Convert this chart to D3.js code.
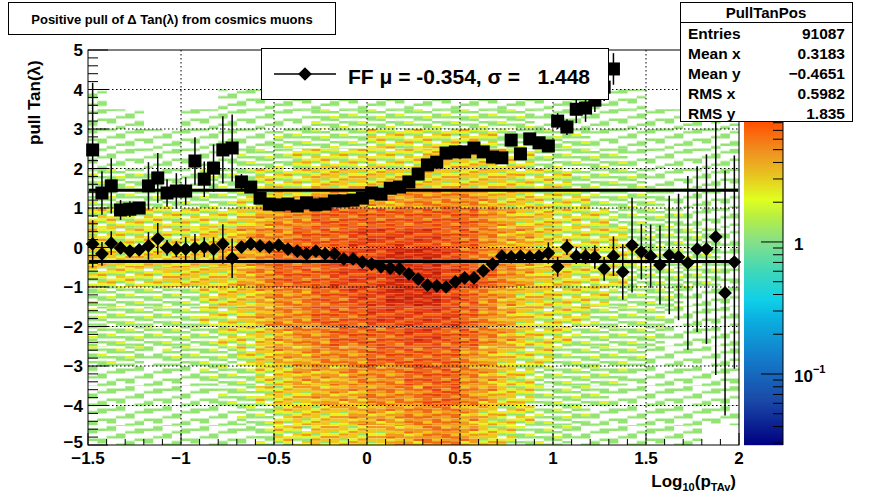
<!DOCTYPE html>
<html><head><meta charset="utf-8">
<script src="https://cdn.jsdelivr.net/npm/d3@7/dist/d3.min.js"></script>
<style>body{margin:0;background:#fff}text{font-family:"Liberation Sans",Arial,sans-serif;font-weight:bold}</style>
</head><body><svg id="c" width="871" height="495"></svg>
<script>
// ---- data ----
const binWidth = 0.05;
const binStart = -1.475;
const squareVals = [2.47,1.38,1.56,0.95,0.97,1.0,1.56,1.76,1.38,1.43,1.43,2.19,1.73,2.01,2.47,2.52,1.66,1.53,1.25,1.1,1.08,1.10,1.05,1.13,1.08,1.10,1.18,1.18,1.2,1.25,1.38,1.35,1.5,1.53,1.66,1.86,2.09,2.16,2.39,2.42,2.42,2.52,2.42,2.29,2.27,2.72,2.37,2.75,2.65,2.57,3.2,3.05,3.5,3.53,3.73,4.06,4.52];
const squareErr = [1.7,0.55,0.7,0.25,0.2,0.15,0.6,0.63,0.35,0.45,0.35,0.6,0.45,0.6,0.85,0.85,0.2,0.1,0.08,0.07,0.06,0.06,0.06,0.06,0.06,0.06,0.06,0.06,0.06,0.06,0.06,0.06,0.07,0.07,0.07,0.07,0.08,0.08,0.08,0.08,0.09,0.09,0.1,0.1,0.12,0.12,0.14,0.14,0.15,0.15,0.2,0.2,0.35,0.35,0.3,0.35,0.4];
const diamondVals = [0.09,-0.16,0.11,-0.01,-0.09,-0.06,0.04,0.22,-0.01,-0.04,-0.04,-0.01,0.01,-0.04,0.09,-0.27,0.01,0.09,0.04,0.01,0.06,-0.04,-0.09,-0.16,-0.09,-0.16,-0.16,-0.29,-0.29,-0.37,-0.42,-0.49,-0.52,-0.54,-0.67,-0.8,-0.95,-0.97,-1.0,-0.87,-0.77,-0.77,-0.59,-0.42,-0.22,-0.24,-0.22,-0.24,-0.22,-0.14,-0.49,0.01,-0.22,-0.22,-0.24,-0.54,-0.22,-0.62,0.06,-0.11,-0.22,-0.44,-0.19,-0.24,-0.39,-0.04,-0.04,0.27,-1.15,-0.37];
const diamondErr = [0.6,0.3,0.3,0.15,0.15,0.1,0.35,0.4,0.2,0.2,0.3,0.35,0.25,0.3,0.5,0.5,0.15,0.1,0.08,0.08,0.07,0.07,0.06,0.06,0.06,0.06,0.06,0.06,0.06,0.06,0.06,0.06,0.06,0.06,0.06,0.06,0.06,0.07,0.07,0.07,0.07,0.08,0.08,0.09,0.1,0.1,0.1,0.12,0.15,0.27,0.25,0.2,0.2,0.2,0.3,0.3,0.5,0.7,1.2,0.7,0.8,1.0,1.5,1.6,2.2,2.1,2.4,3.5,3.1,2.7];
const fitMu = -0.354, fitSigma = 1.448;
// density levels per column (x from -1.5 step 0.1), rows y top(5) -> bottom(-5), step 0.5
const heatX0 = -1.5, heatDX = 0.1, heatDY = 0.5;
const heatCols = [
"00111122334322221111","00011122334322221111","00011122334322221111","00001112334322211111",
"00001112334422221111","00011112334422221111","00011122344433222111","00111122345443322211",
"00111223455544332221","00111233566655443322","00112234667766554433","00112334677766655443",
"00122345777777665544","00122345778877765544","00122345788887766554","00123345788888776654",
"00123345789998776655","00123346789998877665","00123446789998877766","00123446778888777766",
"00123446777877766655","00123445666766655544","00122344556655544433","00122334455544433332",
"00112233444443332222","00112233334433322222","00112223333333222221","00111222333332222211",
"00111222233322222111","00111122223222221111","00011112222222211111","00011111222221111111",
"00011111122211111111","00011111122211111110","00011111111111111110"];
const xTicks = [-1.5,-1,-0.5,0,0.5,1,1.5,2];
const yTicks = [-5,-4,-3,-2,-1,0,1,2,3,4,5];
const zRange = [0.029, 8.1];
const statsRows = [["Entries","91087"],["Mean x","0.3183"],["Mean y","\u22120.4651"],["RMS x","0.5982"],["RMS y","1.835"]];

// ---- drawing ----
const svg = d3.select("#c");
const x = d3.scaleLinear().domain([-1.5,2]).range([88,739]);
const y = d3.scaleLinear().domain([-5,5]).range([445,50]);
const stops = [[0,"#000080"],[0.14,"#1a4aa8"],[0.26,"#1478c8"],[0.39,"#0ab0e0"],[0.45,"#10d0e8"],[0.54,"#40d8b8"],[0.63,"#86e088"],[0.71,"#b8f040"],[0.76,"#e0ff20"],[0.84,"#e8c020"],[0.91,"#f09020"],[1,"#ff5000"]];
const pal = d3.scaleLinear().domain(stops.map(s=>s[0])).range(stops.map(s=>s[1])).clamp(true);

// stripe textures per density level (style, not data)
const C = {W:null,G:"#94e474",Y:"#e4f420",A:"#f0c818",O:"#f09a1c",Q:"#f06a10",R:"#e84010",D:"#d02808",K:"#c01c04"};
const levelStripes = ["","GWWGWWWG","GWYGWGGW","YGAYGWYO","AYOAGYOA","OAOQYOAO","QOQOAQOQ","QRQORQQR","RQRDRQRR","DRDKDDRD"];
const stripeH = 2.5, nVar = 5;
const defs = svg.append("defs");
for(let l=1;l<levelStripes.length;l++){
  for(let v=0;v<nVar;v++){
    const p = defs.append("pattern").attr("id",`p${l}_${v}`).attr("patternUnits","userSpaceOnUse")
      .attr("width",20).attr("height",stripeH*8).attr("patternTransform",`translate(0,${v*stripeH*3+1})`);
    levelStripes[l].split("").forEach((c,k)=>{ if(C[c]) p.append("rect").attr("x",0).attr("y",k*stripeH).attr("width",20).attr("height",stripeH).attr("fill",C[c]); });
  }
}
const heat = [];
heatCols.forEach((s,i)=>{ for(let r=0;r<s.length;r++){ const d=+s[r]; if(d>0) for(let h=0;h<2;h++) heat.push({x0:heatX0+i*heatDX+h*heatDX/2, y1:5-r*heatDY, d, v:(2*i+h+r)%nVar}); }});
svg.append("g").selectAll("rect").data(heat).join("rect")
  .attr("x",d=>x(d.x0)).attr("y",d=>y(d.y1))
  .attr("width",d=>x(d.x0+heatDX/2)-x(d.x0)+0.2).attr("height",d=>y(d.y1-heatDY)-y(d.y1))
  .attr("fill",d=>`url(#p${d.d}_${d.v})`);

// grid
const grid = svg.append("g").attr("stroke","#000").attr("stroke-dasharray","1.5,2.5").attr("stroke-width",1);
xTicks.slice(1,-1).forEach(t=>grid.append("line").attr("x1",x(t)).attr("x2",x(t)).attr("y1",50).attr("y2",445));
yTicks.slice(1,-1).forEach(t=>grid.append("line").attr("y1",y(t)).attr("y2",y(t)).attr("x1",88).attr("x2",739));

// frame & ticks
svg.append("rect").attr("x",88).attr("y",50).attr("width",651).attr("height",395).attr("fill","none").attr("stroke","#000");
const tk = svg.append("g").attr("stroke","#000");
d3.range(-1.5,2.0001,0.1).forEach(t=>{const maj=Math.abs(t*2-Math.round(t*2))<1e-6; tk.append("line").attr("x1",x(t)).attr("x2",x(t)).attr("y1",445).attr("y2",445-(maj?12:6));});
d3.range(-5,5.0001,0.2).forEach(t=>{const maj=Math.abs(t-Math.round(t))<1e-6; tk.append("line").attr("y1",y(t)).attr("y2",y(t)).attr("x1",88).attr("x2",88+(maj?20:10));});
const fmt = t => (t<0?"\u2212":"")+Math.abs(t);
svg.append("g").selectAll("text").data(xTicks).join("text").attr("x",d=>x(d)).attr("y",464).attr("text-anchor","middle").attr("font-size",17).text(fmt);
svg.append("g").selectAll("text").data(yTicks).join("text").attr("x",83).attr("y",d=>y(d)+(d===-5?3:6)).attr("text-anchor","end").attr("font-size",17).text(fmt);
svg.append("text").attr("transform","translate(40,145) rotate(-90)").attr("font-size",17).text("pull Tan(\u03bb)");
const xt = svg.append("text").attr("x",736).attr("y",487).attr("text-anchor","end").attr("font-size",17);
xt.append("tspan").text("Log");
xt.append("tspan").attr("font-size",11).attr("dy",4).text("10");
xt.append("tspan").attr("dy",-4).text("(p");
xt.append("tspan").attr("font-size",11).attr("dy",4).text("TAv");
xt.append("tspan").attr("dy",-4).text(")");

// fit lines
[fitMu,fitSigma].forEach(v=>svg.append("line").attr("x1",89).attr("x2",738).attr("y1",y(v)).attr("y2",y(v)).attr("stroke","#000").attr("stroke-width",3));

// points
const cx = i => x(binStart+i*binWidth);
const eb = svg.append("g").attr("stroke","#000").attr("stroke-width",1.5);
squareVals.forEach((v,i)=>eb.append("line").attr("x1",cx(i)).attr("x2",cx(i)).attr("y1",y(Math.min(5,v+squareErr[i]))).attr("y2",y(v-squareErr[i])));
diamondVals.forEach((v,i)=>eb.append("line").attr("x1",cx(i)).attr("x2",cx(i)).attr("y1",y(Math.min(5,v+diamondErr[i]))).attr("y2",y(Math.max(-5,v-diamondErr[i]))));
svg.append("g").selectAll("rect").data(squareVals).join("rect").attr("x",(d,i)=>cx(i)-6.5).attr("y",d=>y(d)-6.5).attr("width",13).attr("height",13).attr("fill","#000");
const dia = d3.symbol().type(d3.symbolDiamond2).size(120);
svg.append("g").selectAll("path").data(diamondVals).join("path").attr("transform",(d,i)=>`translate(${cx(i)},${y(d)})`).attr("d",dia).attr("fill","#000");

// colorbar
const cb = svg.append("g");
const cbx=744, cbw=39, cbTop=122, cbBot=445;
for(let py=cbTop; py<cbBot; py++){ cb.append("rect").attr("x",cbx).attr("y",py).attr("width",cbw).attr("height",1.2).attr("fill",pal((cbBot-py-0.5)/(cbBot-cbTop))); }
const zy = d3.scaleLog().domain(zRange).range([cbBot,cbTop]);
const cbt = svg.append("g").attr("stroke","#000");
cbt.append("line").attr("x1",cbx+cbw).attr("x2",cbx+cbw).attr("y1",cbTop).attr("y2",cbBot);
[0.03,0.04,0.05,0.06,0.07,0.08,0.09,0.1,0.2,0.3,0.4,0.5,0.6,0.7,0.8,0.9,1,2,3,4,5,6,7,8].forEach(v=>{const maj=(v===0.1||v===1); cbt.append("line").attr("x1",cbx+cbw).attr("x2",cbx+cbw-(maj?22:10)).attr("y1",zy(v)).attr("y2",zy(v));});
svg.append("text").attr("x",794).attr("y",zy(1)+8).attr("font-size",17).text("1");
const t10 = svg.append("text").attr("x",794).attr("y",zy(0.1)+8).attr("font-size",17);
t10.append("tspan").text("10"); t10.append("tspan").attr("font-size",11).attr("dy",-9).text("\u22121");

// title box
svg.append("rect").attr("x",8.5).attr("y",2.5).attr("width",327).attr("height",32).attr("fill","#fff").attr("stroke","#000");
svg.append("text").attr("x",172).attr("y",24).attr("text-anchor","middle").attr("font-size",13).text("Positive pull of \u0394 Tan(\u03bb) from cosmics muons");

// legend
svg.append("rect").attr("x",261.5).attr("y",48.5).attr("width",347).attr("height",51).attr("fill","#fff").attr("stroke","#000");
svg.append("line").attr("x1",274).attr("x2",336).attr("y1",74).attr("y2",74).attr("stroke","#000").attr("stroke-width",1.5);
svg.append("path").attr("transform","translate(305,74)").attr("d",dia).attr("fill","#000");
svg.append("text").attr("x",348).attr("y",84).attr("font-size",21).attr("xml:space","preserve").text(`FF \u03bc = ${fitMu}, \u03c3 =   ${fitSigma}`);

// stats box
svg.append("rect").attr("x",680.5).attr("y",2.5).attr("width",172).attr("height",119).attr("fill","#fff").attr("stroke","#000");
svg.append("line").attr("x1",680.5).attr("x2",852.5).attr("y1",22.5).attr("y2",22.5).attr("stroke","#000");
svg.append("text").attr("x",766).attr("y",18).attr("text-anchor","middle").attr("font-size",15).text("PullTanPos");
statsRows.forEach((r,i)=>{
  svg.append("text").attr("x",688).attr("y",39+i*20).attr("font-size",15.5).text(r[0]);
  svg.append("text").attr("x",845).attr("y",39+i*20).attr("text-anchor","end").attr("font-size",15.5).text(r[1]);
});
</script></body></html>
